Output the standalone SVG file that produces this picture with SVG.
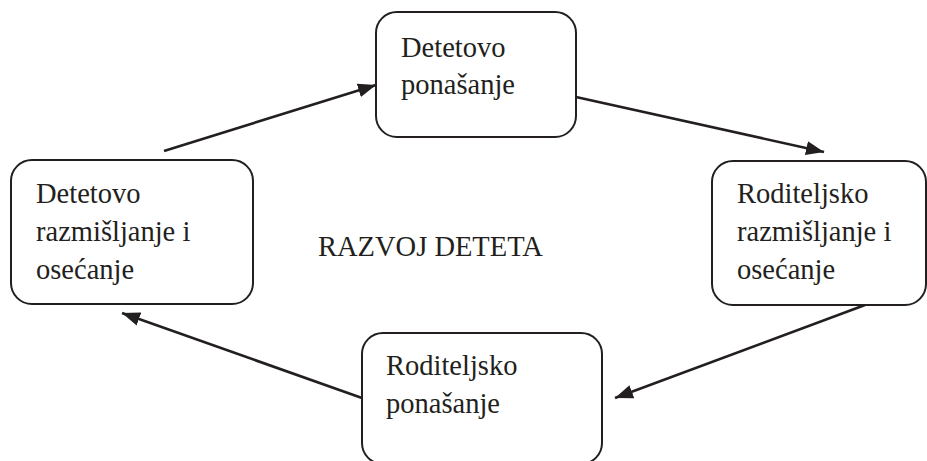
<svg xmlns="http://www.w3.org/2000/svg" width="927" height="461" viewBox="0 0 927 461">
<style>
.box{fill:#fff;stroke:#231f20;stroke-width:2}
.t{font-family:"Liberation Serif","Times New Roman",serif;font-size:28.5px;fill:#231f20}
.c{stroke:#231f20;stroke-width:2.6;fill:none}
</style>
<defs>
<marker id="ah" viewBox="0 0 18 14" refX="18" refY="7" markerWidth="18" markerHeight="14" markerUnits="userSpaceOnUse" orient="auto">
<path d="M0,0 L18,7 L0,14 Z" fill="#231f20"/>
</marker>
</defs>
<rect width="927" height="461" fill="#fff"/>
<g id="connectors">
<line class="c" x1="164" y1="151" x2="376" y2="85" marker-end="url(#ah)"/>
<line class="c" x1="576" y1="97" x2="824" y2="152" marker-end="url(#ah)"/>
<line class="c" x1="865" y1="305" x2="615" y2="398" marker-end="url(#ah)"/>
<line class="c" x1="362" y1="398" x2="122" y2="313" marker-end="url(#ah)"/>
</g>
<g id="node-top">
<rect class="box" x="376" y="12" width="200" height="125" rx="21"/>
<text class="t" x="401" y="57">Detetovo</text>
<text class="t" x="401" y="94">ponašanje</text>
</g>
<g id="node-left">
<rect class="box" x="11" y="160" width="242" height="144" rx="21"/>
<text class="t" x="36" y="203">Detetovo</text>
<text class="t" x="36" y="241">razmišljanje i</text>
<text class="t" x="36" y="279">osećanje</text>
</g>
<g id="node-right">
<rect class="box" x="712" y="161" width="214" height="144" rx="21"/>
<text class="t" x="737" y="203">Roditeljsko</text>
<text class="t" x="737" y="241">razmišljanje i</text>
<text class="t" x="737" y="279">osećanje</text>
</g>
<g id="node-bottom">
<rect class="box" x="362" y="333" width="240" height="131" rx="21"/>
<text class="t" x="386" y="375">Roditeljsko</text>
<text class="t" x="386" y="413">ponašanje</text>
</g>
<g id="center">
<text class="t" x="318" y="256">RAZVOJ DETETA</text>
</g>
</svg>
